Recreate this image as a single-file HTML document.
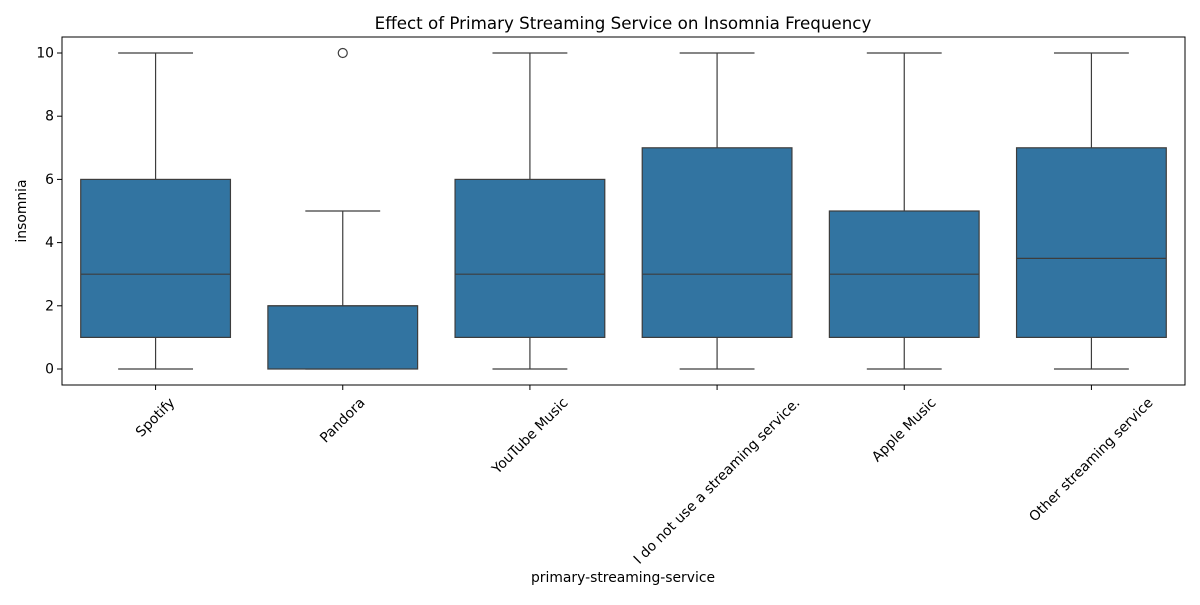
<!DOCTYPE html>
<html><head><meta charset="utf-8"><style>
body{margin:0;background:#fff;}
svg text{font-family:"DejaVu Sans","Liberation Sans",sans-serif;fill:#000;}
</style></head><body>
<svg id="chart" width="1200" height="600" xmlns="http://www.w3.org/2000/svg">
<rect width="1200" height="600" fill="#fff"/>
<text x="623" y="29" font-size="16.7" text-anchor="middle">Effect of Primary Streaming Service on Insomnia Frequency</text>
<g id="plot"></g>
<text x="623" y="582" font-size="13.9" text-anchor="middle">primary-streaming-service</text>
<text transform="translate(26,211) rotate(-90)" font-size="13.9" text-anchor="middle">insomnia</text>
</svg>
<script>
const categories=["Spotify","Pandora","YouTube Music","I do not use a streaming service.","Apple Music","Other streaming service"];
const whiskerLow=[0,0,0,0,0,0];
const q1=[1,0,1,1,1,1];
const medians=[3,2,3,3,3,3.5];
const q3=[6,2,6,7,5,7];
const whiskerHigh=[10,5,10,10,10,10];
const outliers=[[],[10],[],[],[],[]];
const yTicks=[0,2,4,6,8,10];

const L=62,R=1185,T=37,B=385;
const y=v=>369-v*31.6;
const step=(R-L)/categories.length;
const x=i=>L+step*(i+0.5);
const ns="http://www.w3.org/2000/svg";
const g=document.getElementById('plot');
function mk(t,a){const e=document.createElementNS(ns,t);for(const k in a)e.setAttribute(k,a[k]);g.appendChild(e);return e;}
const bw=step*0.8, cw=step*0.4, c="#3d3d3d";
const labels=[];
categories.forEach((cat,i)=>{
  const cx=x(i);
  let e=mk('line',{x1:cx,x2:cx,y1:y(q3[i]),y2:y(whiskerHigh[i]),stroke:c,'stroke-width':1.2});
  
  e=mk('line',{x1:cx,x2:cx,y1:y(q1[i]),y2:y(whiskerLow[i]),stroke:c,'stroke-width':1.2});
  
  e=mk('line',{x1:cx-cw/2,x2:cx+cw/2,y1:y(whiskerHigh[i]),y2:y(whiskerHigh[i]),stroke:c,'stroke-width':1.2});
  
  e=mk('line',{x1:cx-cw/2,x2:cx+cw/2,y1:y(whiskerLow[i]),y2:y(whiskerLow[i]),stroke:c,'stroke-width':1.2});
  
  e=mk('rect',{x:cx-bw/2,y:y(q3[i]),width:bw,height:Math.max(y(q1[i])-y(q3[i]),0.5),fill:'#3274a1',stroke:c,'stroke-width':1.2});
  
  e=mk('line',{x1:cx-bw/2,x2:cx+bw/2,y1:y(medians[i]),y2:y(medians[i]),stroke:c,'stroke-width':1.2});
  
  outliers[i].forEach(v=>{
    const o=mk('circle',{cx:cx,cy:y(v),r:4.5,fill:'none',stroke:c,'stroke-width':1.2});
    
  });
  e=mk('line',{x1:cx,x2:cx,y1:B,y2:B+5,stroke:'#000'});
  
  const t=mk('text',{transform:`translate(${cx},${B+17}) rotate(-45)`,'font-size':13.9,'text-anchor':'end'});
  t.textContent=cat;
  
  labels.push([t,cx]);
});
labels.forEach(([t,cx])=>{
  const r=t.getBoundingClientRect();
  const dx=cx-(r.left+r.width/2), dy=(B+10)-r.top;
  t.setAttribute('transform',`translate(${cx+dx},${B+17+dy}) rotate(-45)`);
});
yTicks.forEach(v=>{
  let e=mk('line',{x1:L-5,x2:L,y1:y(v),y2:y(v),stroke:'#000'});
  
  const t=mk('text',{x:L-8,y:y(v)+4.5,'font-size':13.9,'text-anchor':'end'});
  t.textContent=v;
  
});
const fr=mk('rect',{x:L,y:T,width:R-L,height:B-T,fill:'none',stroke:'#000','stroke-width':1});

</script>
</body></html>
